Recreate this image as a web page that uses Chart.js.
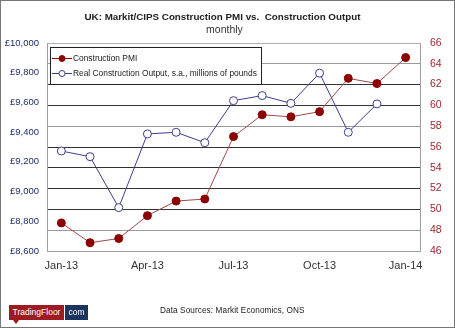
<!DOCTYPE html>
<html>
<head>
<meta charset="utf-8">
<script src="https://cdn.jsdelivr.net/npm/chart.js@4"></script>
<style>
  body { margin: 0; background: #fff; }
  #wrap { position: relative; width: 453px; height: 326px; border: 1px solid #777; overflow: hidden; }
  #chart { position: absolute; left: -1px; top: -1px; }
  .title { position: absolute; left: 0; width: 443px; top: 10px; text-align: center;
    font: bold 9.8px "Liberation Sans", Arial, sans-serif; color: #222; }
  .subtitle { position: absolute; left: 0; width: 447px; top: 22px; text-align: center;
    font: 10.5px "Liberation Sans", Arial, sans-serif; color: #333; }
  .legend { position: absolute; left: 49px; top: 46px; width: 210px; height: 36px; border: 1px solid #222;
    background: #fff; font: 8.4px "Liberation Sans", Arial, sans-serif; color: #222; }
  .legend .row { position: absolute; left: 0; height: 14px; line-height: 14px; white-space: nowrap; }
  .legend .row canvas { vertical-align: middle; }
  .legend span { vertical-align: middle; }
  .sources { position: absolute; left: 159px; top: 305px; font: 8.2px "Liberation Sans", Arial, sans-serif; color: #222; letter-spacing: 0.1px; }
  .logo { position: absolute; left: 8px; top: 304px; height: 15px; font: 8.5px "Liberation Sans", Arial, sans-serif; color: #fff; }
  .logo .tf { position: absolute; left: 0; top: 0; width: 55px; height: 15px; background: #9e1b22; line-height: 15px; text-align: center; }
  .logo .com { position: absolute; left: 56px; top: 0; width: 23px; height: 15px; background: #1c355e; line-height: 15px; text-align: center; }
  .logo .tail { position: absolute; left: 4px; top: 15px; width: 0; height: 0; border-left: 3px solid transparent; border-right: 3px solid transparent; border-top: 4px solid #9e1b22; }
</style>
</head>
<body>
<div id="wrap">
  <canvas id="chart" width="455" height="328"></canvas>
  <div class="title">UK: Markit/CIPS Construction PMI vs.&nbsp; Construction Output</div>
  <div class="subtitle">monthly</div>
  <div class="legend">
    <div class="row" style="top:2px"><canvas id="lg1" width="22" height="12"></canvas><span>Construction PMI</span></div>
    <div class="row" style="top:17px"><canvas id="lg2" width="22" height="12"></canvas><span>Real Construction Output, s.a., millions of pounds</span></div>
  </div>
  <div class="logo"><div class="tf">TradingFloor</div><div class="com">com</div><div class="tail"></div></div>
  <div class="sources">Data Sources: Markit Economics, ONS</div>
</div>
<script>
const months = ["Jan-13", "Feb-13", "Mar-13", "Apr-13", "May-13", "Jun-13", "Jul-13",
  "Aug-13", "Sep-13", "Oct-13", "Nov-13", "Dec-13", "Jan-14"];
const pmi = [48.7, 46.8, 47.2, 49.4, 50.8, 51.0, 57.0, 59.1, 58.9, 59.4, 62.6, 62.1, 64.6];
const output = [9273, 9235, 8892, 9388, 9399, 9329, 9612, 9646, 9594, 9797, 9399, 9590, null];

const red = "#8b0000";
const navy = "#3a3f8c";

// legend markers
function marker(id, color, fill) {
  const c = document.getElementById(id).getContext("2d");
  c.strokeStyle = color;
  c.lineWidth = 1;
  c.beginPath(); c.moveTo(1, 6.5); c.lineTo(21, 6.5); c.stroke();
  c.beginPath(); c.arc(11, 6.5, 3, 0, Math.PI * 2);
  c.fillStyle = fill; c.fill(); c.stroke();
}
marker("lg1", red, red);
marker("lg2", navy, "#fff");

const gridColor = (ctx) => {
  const v = ctx.tick && ctx.tick.value;
  if (v === 66 || v === 46) return "#b0b0b0";
  if (v === 64 || v === 58 || v === 48) return "#9a9a9a";
  return "#333";
};

new Chart(document.getElementById("chart"), {
  type: "line",
  data: {
    labels: months,
    datasets: [
      {
        label: "Construction PMI",
        data: pmi,
        yAxisID: "yR",
        borderColor: "#a0474a",
        borderWidth: 1,
        pointRadius: 4,
        pointBackgroundColor: red,
        pointBorderColor: red,
        tension: 0,
      },
      {
        label: "Real Construction Output, s.a., millions of pounds",
        data: output,
        yAxisID: "yL",
        borderColor: navy,
        borderWidth: 1,
        pointRadius: 4,
        pointBackgroundColor: "#fff",
        pointBorderColor: navy,
        pointBorderWidth: 1,
        tension: 0,
      },
    ],
  },
  options: {
    responsive: false,
    animation: false,
    layout: { padding: { top: 43, left: 0, right: 0, bottom: 0 } },
    plugins: { legend: { display: false }, tooltip: { enabled: false } },
    scales: {
      x: {
        offset: true,
        grid: { display: false, drawTicks: false },
        border: { color: "#a0a0a0" },
        afterFit: (s) => { s.height = 77; },
        ticks: {
          autoSkip: false,
          maxRotation: 0,
          padding: 8,
          color: "#333",
          font: { family: "Liberation Sans", size: 11 },
          callback: function (v, i) { return i % 3 === 0 ? months[i] : ""; },
        },
      },
      yL: {
        position: "left",
        min: 8600,
        max: 10000,
        afterFit: (s) => { s.width = 47; },
        grid: { display: false, drawTicks: false },
        border: { color: "#a0a0a0" },
        ticks: {
          stepSize: 200,
          padding: 8,
          color: "#1f2d6b",
          font: { family: "Liberation Sans", size: 9.5 },
          callback: (v) => "£" + v.toLocaleString("en-GB"),
        },
      },
      yR: {
        position: "right",
        min: 46,
        max: 66,
        afterFit: (s) => { s.width = 35; },
        grid: { color: gridColor, drawTicks: false, lineWidth: 1 },
        border: { color: "#a0a0a0" },
        ticks: {
          stepSize: 2,
          padding: 10,
          color: "#a0282e",
          font: { family: "Liberation Sans", size: 10.5 },
        },
      },
    },
  },
});
</script>
</body>
</html>
